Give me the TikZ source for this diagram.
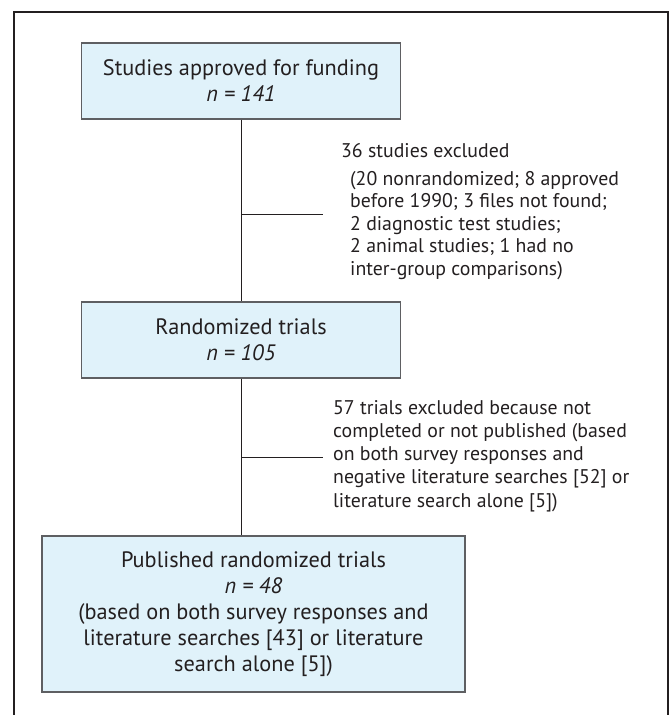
\documentclass[tikz,border=0pt]{standalone}
\usepackage{fontspec}
\setmainfont{PT Sans}
\definecolor{boxfill}{HTML}{E0F2FA}
\definecolor{boxline}{HTML}{5E5F62}
\definecolor{ink}{HTML}{231F20}
\begin{document}
\begin{tikzpicture}[x=1pt,y=-1pt,
  flowbox/.style={draw=boxline,line width=1.3pt,fill=boxfill,align=center,
    inner sep=0pt,font=\fontsize{22.3}{26}\selectfont,text=ink},
  sidetext/.style={anchor=base west,align=left,inner sep=0pt,text=ink},
  conn/.style={draw=ink,line width=1pt}]
\useasboundingbox (0,0) rectangle (670,715);
\draw[ink,line width=1.8pt] (14,730) -- (14,12) -- (668,12) -- (668,730);
\node[flowbox,minimum width=319pt,minimum height=76pt] (b1) at (241,81)
  {Studies approved for funding\\\textit{n = 141}};
\node[flowbox,minimum width=319pt,minimum height=76pt] (b2) at (241,340)
  {Randomized trials\\\textit{n = 105}};
\node[flowbox,minimum width=423pt,minimum height=156pt] (b3) at (253.5,614)
  {Published randomized trials\\\textit{n = 48}\\(based on both survey responses and\\literature searches [43] or literature\\search alone [5])};
\coordinate (j1) at (241,214);
\coordinate (e1) at (323,214);
\coordinate (j2) at (241,457);
\coordinate (e2) at (323,457);
\draw[conn] (b1.south) -- (b2.north);
\draw[conn] (j1) -- (e1);
\draw[conn] (b2.south) -- (b2.south |- b3.north);
\draw[conn] (j2) -- (e2);
\node[sidetext,font=\fontsize{19.8}{22.5}\selectfont] (t1) at (341,157) {36 studies excluded};
\node[sidetext,font=\fontsize{19.8}{22.5}\selectfont] (t1b) at (350,275) {(20 nonrandomized; 8 approved\\before 1990; 3 files not found;\\2 diagnostic test studies;\\2 animal studies; 1 had no\\inter-group comparisons)};
\node[sidetext,font=\fontsize{19.8}{23.2}\selectfont] (t2) at (333,507) {57 trials excluded because not\\completed or not published (based\\on both survey responses and\\negative literature searches [52] or\\literature search alone [5])};
\end{tikzpicture}
\end{document}
